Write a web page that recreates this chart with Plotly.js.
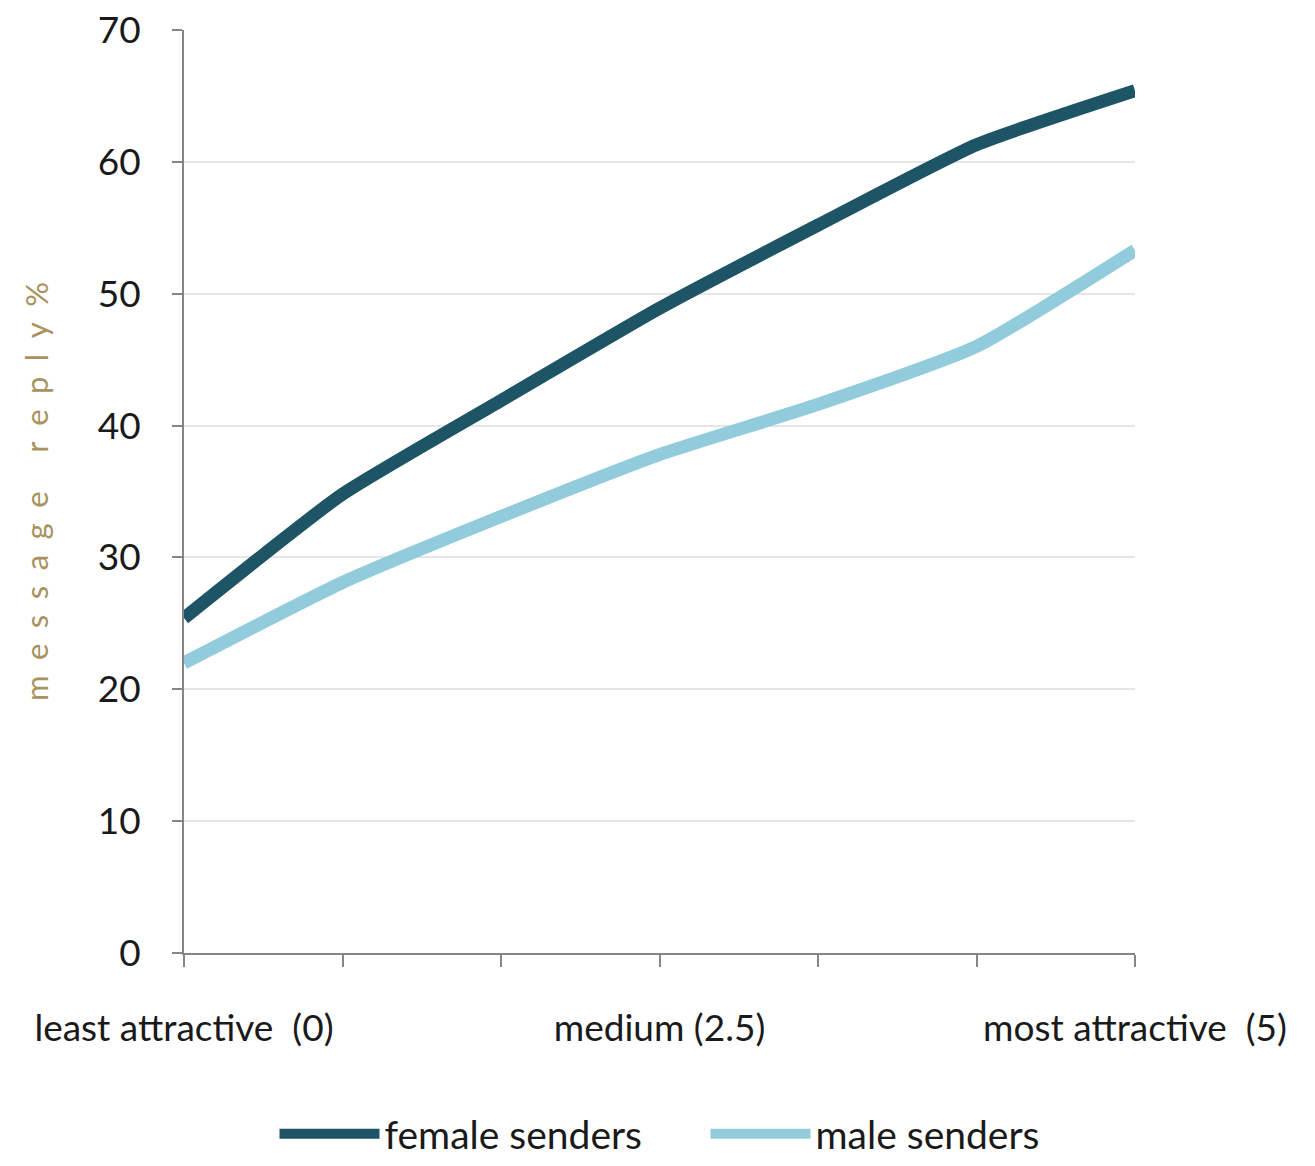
<!DOCTYPE html>
<html>
<head>
<meta charset="utf-8">
<script src="https://cdn.plot.ly/plotly-3.0.1.min.js"></script>
<style>html,body{margin:0;padding:0;background:#fff;}#chart{width:1315px;height:1166px;}</style>
</head>
<body>
<div id="chart"></div>
<script>
const xPositions = [0, 1, 2, 3, 4, 5, 6];
const tickLabels = ['least attractive  (0)', '', '', 'medium (2.5)', '', '', 'most attractive  (5)'];
const femaleSenders = [25.4, 34.8, 41.9, 48.9, 55.2, 61.3, 65.4];
const maleSenders = [22.0, 28.1, 33.1, 37.8, 41.6, 46.0, 53.3];
const yTicks = [0, 10, 20, 30, 40, 50, 60, 70];
const yTitle = 'm\u2002e\u2002s\u2002s\u2002a\u2002g\u2002e\u2003\u2002r\u2002e\u2002p\u2002l\u2002y\u2002%';
const seriesNames = ['female senders\u2003\u2003', 'male senders'];

const font = 'Lato, "Open Sans", sans-serif';

const traces = [
  {x: xPositions, y: femaleSenders, name: seriesNames[0], mode: 'lines',
   line: {color: '#1e5566', width: 13, shape: 'spline', smoothing: 0.5}},
  {x: xPositions, y: maleSenders, name: seriesNames[1], mode: 'lines',
   line: {color: '#92cbdb', width: 13, shape: 'spline', smoothing: 0.5}}
];

const layout = {
  width: 1315, height: 1166,
  margin: {l: 184, r: 180, t: 30, b: 213, autoexpand: false},
  paper_bgcolor: '#ffffff', plot_bgcolor: '#ffffff',
  font: {family: font, color: '#1a1a1a', size: 37},
  showlegend: true,
  legend: {orientation: 'h', x: 0.5, xanchor: 'center', y: -0.196, yanchor: 'middle',
           font: {family: font, size: 39, color: '#1a1a1a'}, itemwidth: 100},
  xaxis: {
    range: [0, 6], tickmode: 'array', tickvals: xPositions, ticktext: tickLabels,
    showgrid: false, zeroline: false, showline: true, linecolor: '#868686', linewidth: 2,
    ticks: 'outside', ticklen: 12, tickwidth: 2, tickcolor: '#868686',
    tickfont: {family: font, size: 37, color: '#1a1a1a'}, ticklabelstandoff: 30,
    tickangle: 0
  },
  yaxis: {
    range: [0, 70], tickmode: 'array', tickvals: yTicks,
    showgrid: true, gridcolor: '#e6e6e6', gridwidth: 2, zeroline: false,
    showline: true, linecolor: '#868686', linewidth: 2,
    ticks: 'outside', ticklen: 10, tickwidth: 2, tickcolor: '#868686',
    tickfont: {family: font, size: 37, color: '#1a1a1a'}, ticklabelstandoff: 24,
    title: {text: yTitle, font: {family: font, size: 31, color: '#a8925e'}, standoff: 40}
  }
};

Plotly.newPlot('chart', traces, layout, {displayModeBar: false});
</script>
</body>
</html>
